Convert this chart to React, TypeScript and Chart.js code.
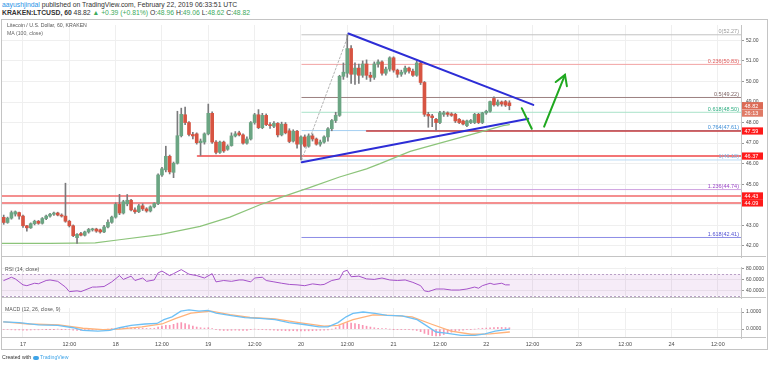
import React, { useEffect, useRef } from 'react';
import { Chart, registerables } from 'chart.js';

Chart.register(...registerables);

const FONT = '"Liberation Sans", Arial, sans-serif';
const GRID = '#efefef';
const FRAME = '#c4c4c4';
const AXIS_W = 25;

// ---------- time axis (x = hourly candle index, 0 = Feb 16 19:00) ----------
const X_MIN = -0.44;
const X_MAX = 191.0;
const timeTickIdx = [5, 17, 29, 41, 53, 65, 77, 89, 101, 113, 125, 137, 149, 161, 173, 185];
const timeTickLabels = ['17', '12:00', '18', '12:00', '19', '12:00', '20', '12:00', '21', '12:00', '22', '12:00', '23', '12:00', '24', '12:00'];

// ---------- price panel ----------
const priceMin = 41.46;
const priceMax = 52.746;
const priceTicks = [42, 43, 44, 45, 46, 47, 48, 49, 50, 51, 52];

// [open, high, low, close]
const ohlc = [
  [43.39, 43.5, 43.05, 43.14], [43.14, 43.4, 43.1, 43.35], [43.35, 43.7, 43.3, 43.62], [43.55, 43.7, 43.45, 43.66],
  [43.62, 43.64, 43.3, 43.45], [43.45, 43.5, 42.9, 42.98], [42.98, 43.0, 42.72, 42.88], [42.88, 43.12, 42.85, 43.08],
  [43.08, 43.25, 43.02, 43.2], [43.2, 43.24, 43.05, 43.1], [43.1, 43.38, 43.06, 43.33], [43.33, 43.5, 43.28, 43.45],
  [43.45, 43.58, 43.4, 43.54], [43.54, 43.65, 43.48, 43.6], [43.6, 43.64, 43.46, 43.5], [43.5, 43.56, 43.4, 43.45],
  [43.45, 45.05, 43.15, 43.2], [43.2, 43.25, 42.92, 42.98], [42.98, 43.02, 42.45, 42.5], [42.4, 42.6, 42.12, 42.56],
  [42.6, 42.66, 42.48, 42.52], [42.52, 42.72, 42.48, 42.68], [42.68, 42.85, 42.62, 42.8], [42.78, 42.86, 42.72, 42.82],
  [42.82, 42.86, 42.66, 42.72], [42.78, 42.82, 42.62, 42.68], [42.68, 43.0, 42.64, 42.92], [42.92, 43.27, 42.88, 43.15],
  [43.15, 43.45, 43.1, 43.4], [43.4, 44.1, 43.35, 44.02], [44.02, 44.51, 43.52, 43.6], [43.6, 44.22, 43.55, 44.15],
  [44.05, 44.5, 43.95, 44.22], [44.22, 44.26, 43.7, 43.75], [43.75, 43.85, 43.58, 43.66], [43.66, 44.02, 43.62, 43.95],
  [43.95, 44.05, 43.72, 43.8], [43.8, 43.86, 43.64, 43.7], [43.7, 43.95, 43.65, 43.9], [43.9, 44.1, 43.85, 44.06],
  [44.06, 45.5, 44.0, 45.45], [45.45, 45.82, 45.38, 45.75], [45.7, 46.85, 45.6, 46.36], [46.36, 46.42, 45.5, 45.6],
  [45.58, 46.08, 45.32, 46.02], [46.02, 48.55, 45.98, 47.36], [47.36, 48.7, 47.3, 48.4], [48.38, 48.75, 47.9, 48.0],
  [48.0, 48.05, 47.35, 47.42], [47.42, 47.52, 47.2, 47.35], [47.45, 47.5, 46.95, 47.02], [47.02, 47.2, 46.4, 47.1],
  [47.05, 47.5, 46.95, 47.45], [47.45, 48.9, 47.4, 48.45], [48.45, 48.52, 46.98, 47.05], [47.05, 47.12, 46.48, 46.55],
  [46.55, 47.1, 46.5, 47.05], [47.05, 47.1, 46.55, 46.62], [46.7, 46.92, 46.65, 46.85], [46.88, 47.5, 46.85, 47.35],
  [47.35, 47.56, 47.3, 47.45], [47.5, 47.58, 47.35, 47.4], [47.4, 47.45, 46.95, 47.0], [47.0, 47.3, 46.95, 47.2],
  [47.2, 48.05, 47.15, 48.0], [48.0, 48.45, 47.92, 48.38], [48.38, 48.63, 47.7, 47.75], [47.75, 48.45, 47.7, 48.35],
  [48.35, 48.42, 47.85, 47.9], [47.9, 48.0, 47.72, 47.85], [47.82, 48.05, 47.75, 47.96], [47.96, 48.0, 47.3, 47.4],
  [47.4, 48.02, 47.35, 47.92], [47.92, 48.0, 47.45, 47.5], [47.6, 47.7, 47.02, 47.08], [47.1, 47.65, 47.05, 47.58],
  [47.58, 47.62, 46.76, 46.95], [46.95, 47.35, 46.18, 47.3], [47.3, 47.4, 46.8, 46.85], [46.85, 47.45, 46.8, 47.35],
  [47.35, 47.45, 47.1, 47.2], [47.2, 47.25, 46.9, 46.95], [46.95, 47.15, 46.85, 47.05], [47.05, 47.35, 47.0, 47.3],
  [47.3, 47.75, 47.1, 47.7], [47.7, 48.15, 47.6, 48.1], [48.1, 48.5, 48.0, 48.35], [48.35, 50.3, 48.3, 50.25],
  [50.25, 50.9, 50.1, 50.45], [50.4, 52.27, 50.2, 51.6], [51.6, 51.75, 49.9, 50.35], [50.35, 50.9, 49.85, 50.65],
  [50.65, 50.85, 49.9, 50.3], [50.3, 51.0, 50.2, 50.85], [50.85, 51.05, 50.1, 50.3], [50.3, 50.45, 50.0, 50.2],
  [50.2, 50.95, 50.1, 50.85], [50.85, 51.05, 50.7, 50.95], [50.95, 51.0, 50.3, 50.4], [50.4, 50.7, 50.3, 50.6],
  [50.6, 51.2, 50.5, 51.15], [51.15, 51.2, 50.45, 50.55], [50.55, 50.6, 50.2, 50.35], [50.35, 50.55, 50.25, 50.45],
  [50.45, 50.75, 50.35, 50.65], [50.65, 50.7, 50.4, 50.5], [50.5, 50.6, 50.25, 50.3], [50.3, 51.0, 50.25, 50.9],
  [50.9, 50.95, 49.85, 49.95], [49.95, 50.0, 48.3, 48.4], [48.4, 48.5, 47.77, 48.32], [48.32, 48.4, 47.8, 48.24],
  [48.16, 48.2, 47.62, 48.0], [48.0, 48.55, 47.95, 48.47], [48.4, 48.55, 48.3, 48.47], [48.47, 48.52, 48.3, 48.4],
  [48.42, 48.48, 48.3, 48.35], [48.4, 48.45, 48.0, 48.08], [48.16, 48.2, 47.95, 48.0], [48.08, 48.12, 47.88, 47.93],
  [47.85, 48.12, 47.8, 48.08], [48.0, 48.15, 47.95, 48.1], [48.0, 48.45, 47.95, 48.4], [48.4, 48.45, 47.95, 48.0],
  [48.0, 48.5, 47.95, 48.47], [48.47, 48.6, 48.4, 48.55], [48.55, 49.05, 48.5, 49.02], [49.17, 49.25, 48.8, 48.86],
  [48.86, 49.1, 48.8, 49.0], [49.0, 49.05, 48.8, 48.9], [49.02, 49.08, 48.78, 48.85], [48.96, 49.06, 48.62, 48.82],
];

const maIdx = [-0.4, 12, 23.7, 30, 40.5, 50.9, 58.6, 66.4, 71.6, 79.4, 87, 94, 97.5, 105.3, 113, 120.8, 129.4, 131];
const maVals = [42.12, 42.12, 42.15, 42.3, 42.55, 42.95, 43.4, 44.0, 44.35, 44.85, 45.35, 45.75, 46.0, 46.6, 47.0, 47.4, 47.85, 47.9];

const fibLevels = [0, 0.236, 0.5, 0.618, 0.764, 1, 1.236, 1.618];
const fibPrices = [52.27, 50.83, 49.22, 48.5, 47.61, 46.18, 44.74, 42.41];
const fibLineColors = ['#c2c2c2', '#f2a3a3', '#9c8080', '#a9e2c9', '#a5cff2', '#bcdcf5', '#cfa3e0', '#8c8ce6'];
const fibTextColors = ['#9a9a9a', '#e05a5a', '#7a5f5f', '#2fae82', '#3f8fd8', '#82b6e6', '#9b45c9', '#4f4fd2'];
const fibStartIdx = 77.2;

const supportPrices = [44.43, 44.09, 46.37, 47.59];
const supportStartIdx = [X_MIN, X_MIN, 50.2, 94.0];
const supportColors = ['#f06a6a', '#f06a6a', '#f04848', '#c73a3a'];

const upperTrendIdx = [89.3, 137.2];
const upperTrendPrice = [52.33, 48.86];
const lowerTrendIdx = [77.2, 135.9];
const lowerTrendPrice = [46.07, 48.19];
const fibDiagIdx = [77.2, 89.3];
const fibDiagPrice = [46.18, 52.27];
const arrowDownIdx = [134.2, 136.8];
const arrowDownPrice = [48.7, 47.7];
const arrowUpIdx = [140.0, 145.4];
const arrowUpPrice = [47.8, 50.32];
const arrowHeadIdx = [143.0, 145.4, 145.9];
const arrowHeadPrice = [49.97, 50.32, 49.77];

const lastPrice = 48.82;
const countdown = '26:13';

// ---------- RSI panel ----------
const rsiMin = 25.9;
const rsiMax = 82.8;
const rsiTicks = [40, 60, 80];
const rsiBand = [30, 70];
const rsiIdx = [0, 2, 3, 5, 6, 8, 9, 11, 12, 14, 16, 17, 19, 20, 23, 24, 26, 28, 30, 31, 33, 34, 36, 37, 39, 40, 41, 43, 44, 46, 48, 50, 52, 54, 55, 57, 59, 61, 62, 64, 65, 67, 68, 70, 72, 74, 76, 78, 80, 82, 83, 85, 87, 88, 89, 90, 92, 94, 96, 98, 100, 102, 104, 106, 108, 109, 110, 112, 114, 116, 118, 120, 122, 123, 124, 126, 127, 129, 130, 131];
const rsiVals = [57.9, 64, 61, 50, 48.5, 53, 52, 58, 59, 56.5, 46, 37.6, 39, 37.6, 46, 46, 47, 55.5, 67, 60, 66, 58, 62.6, 56.5, 59, 72, 75.3, 67, 70.6, 78, 69.6, 67, 62.6, 70.6, 55.5, 58, 56.5, 59, 59, 55.5, 62.6, 64, 58, 55.5, 53, 50.8, 50, 48.5, 51.8, 50, 50.8, 58, 61, 74.4, 76.7, 65, 66, 61, 60, 62.6, 59, 58, 59, 54.6, 48.5, 39, 37.6, 42.4, 42.4, 40.5, 40.5, 42.4, 46, 43.8, 48.5, 53, 50.8, 53, 50, 50];

// ---------- MACD panel ----------
const macdMin = -0.52;
const macdMax = 1.235;
const macdTicks = [0, 1];
const macdIdx = [0, 4, 9, 14, 18, 20.5, 24.4, 27.5, 30, 33, 36.6, 39.7, 41.5, 43.6, 45.9, 48, 50.6, 52.9, 55, 58.6, 62.5, 66.4, 70.3, 73.9, 77.8, 81.7, 84, 86.6, 88.7, 90.5, 93.1, 96.2, 99.3, 103.2, 107.1, 109.4, 112, 114.6, 118.5, 122.1, 124.7, 127.3, 131];
const macdVals = [0.42, 0.38, 0.25, 0.22, 0.08, -0.07, -0.12, -0.07, 0.08, 0.22, 0.3, 0.33, 0.55, 0.72, 1.05, 1.13, 1.05, 1.1, 0.93, 0.8, 0.67, 0.63, 0.55, 0.38, 0.27, 0.13, 0.13, 0.38, 0.72, 0.92, 1.0, 0.92, 0.8, 0.77, 0.55, 0.22, -0.17, -0.23, -0.37, -0.37, -0.28, -0.12, 0.0];
const signalIdx = [0, 6.5, 14.3, 20.5, 25.7, 30, 35.8, 41, 44.6, 48.5, 53.7, 58.6, 63.8, 70.3, 76.5, 83, 86.6, 90.5, 95.7, 100.6, 105.8, 110.7, 115.9, 121.1, 126, 131];
const signalVals = [0.42, 0.3, 0.25, 0.05, -0.03, 0.0, 0.13, 0.3, 0.63, 0.93, 1.05, 0.85, 0.68, 0.6, 0.38, 0.17, 0.22, 0.55, 0.83, 0.8, 0.72, 0.3, -0.12, -0.3, -0.28, -0.17];
const histVals = [
  -0.03, -0.03, -0.04, -0.05, -0.05,
  -0.06, -0.06, -0.05, -0.04, -0.04, -0.03,
  -0.02, -0.02, -0.01, 0.0, -0.01, -0.02,
  -0.03, -0.06, -0.08, -0.08, -0.07, -0.06,
  -0.05, -0.04, -0.03, -0.02, 0.0, 0.02,
  0.05, 0.06, 0.07, 0.08, 0.07, 0.06,
  0.05, 0.05, 0.04, 0.04, 0.05, 0.12,
  0.18, 0.22, 0.22, 0.28, 0.35, 0.38,
  0.33, 0.25, 0.18, 0.12, 0.08, 0.06,
  0.08, 0.02, -0.04, -0.06, -0.08, -0.08,
  -0.07, -0.06, -0.07, -0.08, -0.07, -0.02,
  0.0, -0.03, -0.02, -0.04, -0.05, -0.06,
  -0.08, -0.08, -0.09, -0.1, -0.09, -0.1,
  -0.1, -0.1, -0.1, -0.09, -0.08, -0.07,
  -0.06, -0.05, 0.0, 0.08, 0.2, 0.3,
  0.38, 0.36, 0.32, 0.28, 0.22, 0.17,
  0.12, 0.08, 0.05, 0.03, 0.02, 0.0,
  -0.01, -0.02, -0.02, -0.03, -0.04, -0.05,
  -0.08, -0.15, -0.25, -0.32, -0.38, -0.4,
  -0.38, -0.32, -0.25, -0.18, -0.12, -0.08,
  -0.06, -0.04, -0.02, 0.0, 0.03, 0.05,
  0.06, 0.08, 0.09, 0.1, 0.1, 0.09, 0.08,
];

// ---------- colours ----------
const UP = '#6ba583';
const DOWN = '#d75442';
const WICK = '#7a7a7c';
const TREND = '#2d2dd6';
const ARROW = '#1fa81f';

const pts = (xs: number[], ys: number[]) => xs.map((x, k) => ({ x, y: ys[k] }));

function line(data: any[], color: string, width: number, dash: number[] = []) {
  return {
    type: 'line',
    data,
    borderColor: color,
    borderWidth: width,
    borderDash: dash,
    pointRadius: 0,
    fill: false,
    tension: 0,
    borderCapStyle: 'round',
  };
}

function timeScale(showLabels: boolean) {
  return {
    type: 'linear',
    min: X_MIN,
    max: X_MAX,
    offset: false,
    grid: { color: GRID, drawTicks: false, offset: false },
    border: { display: false },
    afterBuildTicks: (s: any) => {
      s.ticks = timeTickIdx.map((v) => ({ value: v }));
    },
    afterFit: (s: any) => {
      s.height = showLabels ? 11 : 0;
    },
    ticks: {
      display: showLabels,
      autoSkip: false,
      maxRotation: 0,
      padding: 3,
      color: '#4a4a4a',
      font: { size: 5.5, family: FONT },
      callback: (v: number) => {
        const k = timeTickIdx.indexOf(v);
        return k >= 0 ? timeTickLabels[k] : '';
      },
    },
  };
}

function valueScale(min: number, max: number, ticks: number[], digits: number) {
  return {
    position: 'right',
    min,
    max,
    grid: { color: GRID, tickLength: 3, tickColor: '#9a9a9a' },
    border: { display: true, color: FRAME },
    afterBuildTicks: (s: any) => {
      s.ticks = ticks.map((v) => ({ value: v }));
    },
    afterFit: (s: any) => {
      s.width = AXIS_W;
    },
    ticks: {
      padding: 2,
      color: '#4a4a4a',
      font: { size: 5, family: FONT },
      callback: (v: number) => Number(v).toFixed(digits),
    },
  };
}

const separator = {
  id: 'separator',
  afterDraw(chart: any) {
    const { ctx, chartArea } = chart;
    ctx.save();
    ctx.strokeStyle = FRAME;
    ctx.lineWidth = 1;
    ctx.beginPath();
    ctx.moveTo(0, Math.round(chartArea.bottom) - 0.5);
    ctx.lineTo(chart.width, Math.round(chartArea.bottom) - 0.5);
    ctx.stroke();
    ctx.restore();
  },
};

const priceOverlay = {
  id: 'priceOverlay',
  afterDraw(chart: any) {
    const { ctx, chartArea: a, scales } = chart;
    const ys = scales.y;
    ctx.save();
    ctx.font = `5.5px ${FONT}`;
    ctx.textAlign = 'right';
    ctx.textBaseline = 'alphabetic';
    fibPrices.forEach((p, k) => {
      ctx.fillStyle = fibTextColors[k];
      ctx.fillText(`${fibLevels[k]}(${p.toFixed(2)})`, a.right - 2, ys.getPixelForValue(p) - 1.5);
    });
    const box = (val: number, text: string, color: string, dy: number) => {
      const yc = ys.getPixelForValue(val) + dy;
      ctx.fillStyle = color;
      ctx.fillRect(a.right + 1, yc - 3.6, 21, 7.2);
      ctx.fillStyle = '#ffffff';
      ctx.textAlign = 'left';
      ctx.textBaseline = 'middle';
      ctx.fillText(text, a.right + 3.5, yc + 0.4);
    };
    supportPrices.forEach((p) => box(p, p.toFixed(2), '#ff1a1a', 0));
    box(lastPrice, lastPrice.toFixed(2), '#dc6a55', 0);
    box(lastPrice, countdown, '#e07a66', 7.4);
    ctx.restore();
  },
};

const rsiBandPlugin = {
  id: 'rsiBand',
  beforeDatasetsDraw(chart: any) {
    const { ctx, chartArea: a, scales } = chart;
    const yTop = scales.y.getPixelForValue(rsiBand[1]);
    const yBot = scales.y.getPixelForValue(rsiBand[0]);
    ctx.save();
    ctx.fillStyle = 'rgba(156, 39, 176, 0.09)';
    ctx.fillRect(a.left, yTop, a.right - a.left, yBot - yTop);
    ctx.strokeStyle = '#b9a2c6';
    ctx.lineWidth = 1;
    ctx.setLineDash([2, 2]);
    [yTop, yBot].forEach((y) => {
      ctx.beginPath();
      ctx.moveTo(a.left, Math.round(y) + 0.5);
      ctx.lineTo(a.right, Math.round(y) + 0.5);
      ctx.stroke();
    });
    ctx.restore();
  },
};

const baseOptions = {
  responsive: false,
  maintainAspectRatio: false,
  devicePixelRatio: 1,
  animation: false,
  events: [],
  layout: { padding: 0 },
  plugins: { legend: { display: false }, tooltip: { enabled: false } },
};

function priceConfig(): any {
  const bodyColors = ohlc.map((c) => (c[3] >= c[0] ? UP : DOWN));
  const datasets: any[] = [
    line(pts(arrowHeadIdx, arrowHeadPrice), ARROW, 2),
    line(pts(arrowUpIdx, arrowUpPrice), ARROW, 2),
    line(pts(arrowDownIdx, arrowDownPrice), ARROW, 2),
    line(pts(upperTrendIdx, upperTrendPrice), TREND, 2),
    line(pts(lowerTrendIdx, lowerTrendPrice), TREND, 2),
    {
      type: 'bar',
      data: ohlc.map((c, i) => ({ x: i, y: [c[0], c[3]] })),
      backgroundColor: bodyColors,
      borderWidth: 0,
      barThickness: 3,
      minBarLength: 1,
      grouped: false,
    },
    {
      type: 'bar',
      data: ohlc.map((c, i) => ({ x: i, y: [c[2], c[1]] })),
      backgroundColor: WICK,
      borderWidth: 0,
      barThickness: 1,
      grouped: false,
    },
    line(pts(maIdx, maVals), '#8cc47a', 1.2),
    line(pts(fibDiagIdx, fibDiagPrice), '#b5b5b5', 1, [2, 2]),
    ...supportPrices.map((p, k) => line(pts([supportStartIdx[k], X_MAX], [p, p]), supportColors[k], 1.5)),
    ...fibPrices.map((p, k) => line(pts([fibStartIdx, X_MAX], [p, p]), fibLineColors[k], 1)),
  ];
  return {
    type: 'bar',
    data: { datasets },
    options: {
      ...baseOptions,
      scales: { x: timeScale(false), y: valueScale(priceMin, priceMax, priceTicks, 2) },
    },
    plugins: [priceOverlay, separator],
  };
}

function rsiConfig(): any {
  return {
    type: 'line',
    data: { datasets: [line(pts(rsiIdx, rsiVals), '#a552c9', 1)] },
    options: {
      ...baseOptions,
      scales: { x: timeScale(false), y: valueScale(rsiMin, rsiMax, rsiTicks, 4) },
    },
    plugins: [rsiBandPlugin, separator],
  };
}

function macdConfig(): any {
  return {
    type: 'bar',
    data: {
      datasets: [
        line(pts(macdIdx, macdVals), '#6ec0f5', 1.3),
        line(pts(signalIdx, signalVals), '#ffb27a', 1.3),
        {
          type: 'bar',
          data: histVals.map((v, i) => ({ x: i, y: v })),
          backgroundColor: 'rgba(245, 80, 130, 0.6)',
          borderWidth: 0,
          barThickness: 1,
          grouped: false,
        },
      ],
    },
    options: {
      ...baseOptions,
      scales: { x: timeScale(true), y: valueScale(macdMin, macdMax, macdTicks, 4) },
    },
    plugins: [separator],
  };
}

const textBase: React.CSSProperties = { position: 'absolute', whiteSpace: 'nowrap', fontFamily: FONT, lineHeight: 1 };

export default function App() {
  const priceRef = useRef<HTMLCanvasElement>(null);
  const rsiRef = useRef<HTMLCanvasElement>(null);
  const macdRef = useRef<HTMLCanvasElement>(null);

  useEffect(() => {
    document.body.style.margin = '0';
    const charts = [
      new Chart(priceRef.current as HTMLCanvasElement, priceConfig()),
      new Chart(rsiRef.current as HTMLCanvasElement, rsiConfig()),
      new Chart(macdRef.current as HTMLCanvasElement, macdConfig()),
    ];
    return () => charts.forEach((c) => c.destroy());
  }, []);

  const green = '#3daa5c';
  return (
    <div style={{ position: 'relative', width: 768, height: 365, background: '#fff', overflow: 'hidden' }}>
      <div style={{ ...textBase, left: 2, top: 1.5, fontSize: 6.8, color: '#333' }}>
        <span style={{ color: '#2a93e6' }}>aayushjindal</span> published on TradingView.com, February 22, 2019 06:33:51 UTC
      </div>
      <div style={{ ...textBase, left: 2, top: 10, fontSize: 6.8, color: '#333' }}>
        <b>KRAKEN:LTCUSD, 60</b> 48.82 <span style={{ color: green }}>▲ +0.39 (+0.81%)</span> O:<span style={{ color: green }}>48.96</span> H:<span style={{ color: green }}>49.06</span> L:<span style={{ color: green }}>48.62</span> C:<span style={{ color: green }}>48.82</span>
      </div>

      <canvas ref={priceRef} width={764} height={242} style={{ position: 'absolute', left: 2, top: 20, width: 764, height: 242 }} />
      <canvas ref={rsiRef} width={764} height={41} style={{ position: 'absolute', left: 2, top: 262, width: 764, height: 41 }} />
      <canvas ref={macdRef} width={764} height={46} style={{ position: 'absolute', left: 2, top: 303, width: 764, height: 46 }} />

      <div style={{ position: 'absolute', left: 1, top: 19, width: 767, height: 331, border: `1px solid ${FRAME}`, boxSizing: 'border-box', pointerEvents: 'none' }} />

      <div style={{ ...textBase, left: 7, top: 23, fontSize: 5.2, color: '#555' }}>Litecoin / U.S. Dollar, 60, KRAKEN</div>
      <div style={{ ...textBase, left: 7, top: 30.5, fontSize: 5.2, color: '#666' }}>MA (100, close)</div>
      <div style={{ ...textBase, left: 5, top: 267, fontSize: 5.2, color: '#555' }}>RSI (14, close)</div>
      <div style={{ ...textBase, left: 5, top: 307, fontSize: 5.2, color: '#555' }}>MACD (12, 26, close, 9)</div>

      <div style={{ ...textBase, left: 2, top: 355, fontSize: 5.2, color: '#333' }}>
        Created with <span style={{ display: 'inline-block', width: 6, height: 4, borderRadius: 2, background: '#3fa4e8', verticalAlign: 'middle' }} /> <span style={{ color: '#3fa4e8' }}>TradingView</span>
      </div>
    </div>
  );
}
